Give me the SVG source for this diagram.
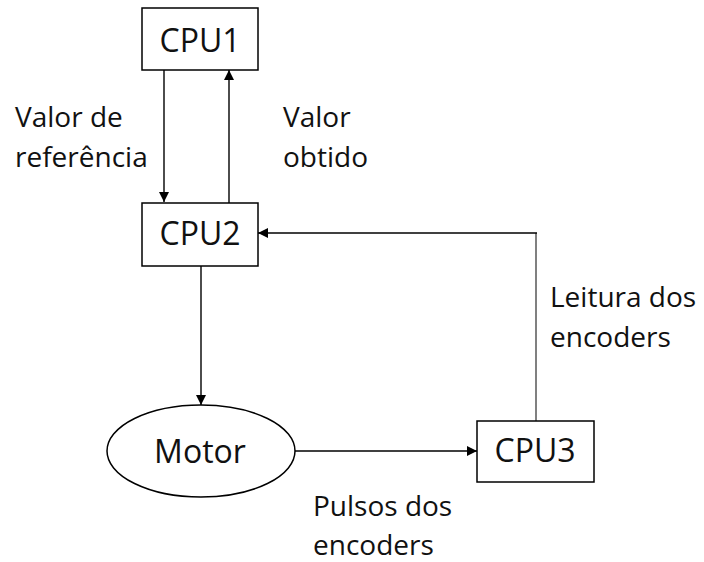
<svg xmlns="http://www.w3.org/2000/svg" width="704" height="562" viewBox="0 0 704 562">
<style>
.box{fill:#fff;stroke:#000;stroke-width:1.5}
.nt{font-family:"Open Sans",sans-serif;font-size:32px;fill:#111;text-anchor:middle}
.lb{font-family:"Open Sans",sans-serif;font-size:28px;fill:#111}
.c{fill:none;stroke:#000;stroke-width:1.4}
</style>
<defs>
<marker id="ah" viewBox="0 0 10 10" refX="10" refY="5" markerWidth="10" markerHeight="10" markerUnits="userSpaceOnUse" orient="auto">
<path d="M0,0 L10,5 L0,10 Z" fill="#000"/>
</marker>
</defs>
<rect width="704" height="562" fill="#fff"/>
<g id="connectors">
<line class="c" x1="164" y1="70" x2="164" y2="202" marker-end="url(#ah)"/>
<line class="c" x1="229" y1="203" x2="229" y2="70" marker-end="url(#ah)"/>
<line class="c" x1="536" y1="421" x2="536" y2="233" style="stroke:#808080;stroke-width:2"/>
<line class="c" x1="537" y1="233" x2="258" y2="233" marker-end="url(#ah)"/>
<line class="c" x1="201" y1="266" x2="201" y2="405" marker-end="url(#ah)"/>
<line class="c" x1="294" y1="451" x2="477" y2="451" marker-end="url(#ah)"/>
</g>
<g id="cpu1"><rect class="box" x="142" y="8" width="116" height="62"/><text class="nt" x="200" y="52">CPU1</text></g>
<g id="cpu2"><rect class="box" x="142" y="203" width="116" height="63"/><text class="nt" x="200" y="245">CPU2</text></g>
<g id="motor"><ellipse class="box" cx="201" cy="451" rx="94" ry="46"/><text class="nt" x="200" y="463">Motor</text></g>
<g id="cpu3"><rect class="box" x="477" y="421" width="117" height="61"/><text class="nt" x="535" y="462">CPU3</text></g>
<g id="labels">
<text class="lb" x="15" y="127">Valor de</text>
<text class="lb" x="15" y="167">referência</text>
<text class="lb" x="283" y="127">Valor</text>
<text class="lb" x="283" y="167">obtido</text>
<text class="lb" x="550" y="307">Leitura dos</text>
<text class="lb" x="550" y="347">encoders</text>
<text class="lb" x="313" y="516">Pulsos dos</text>
<text class="lb" x="313" y="555">encoders</text>
</g>
</svg>
